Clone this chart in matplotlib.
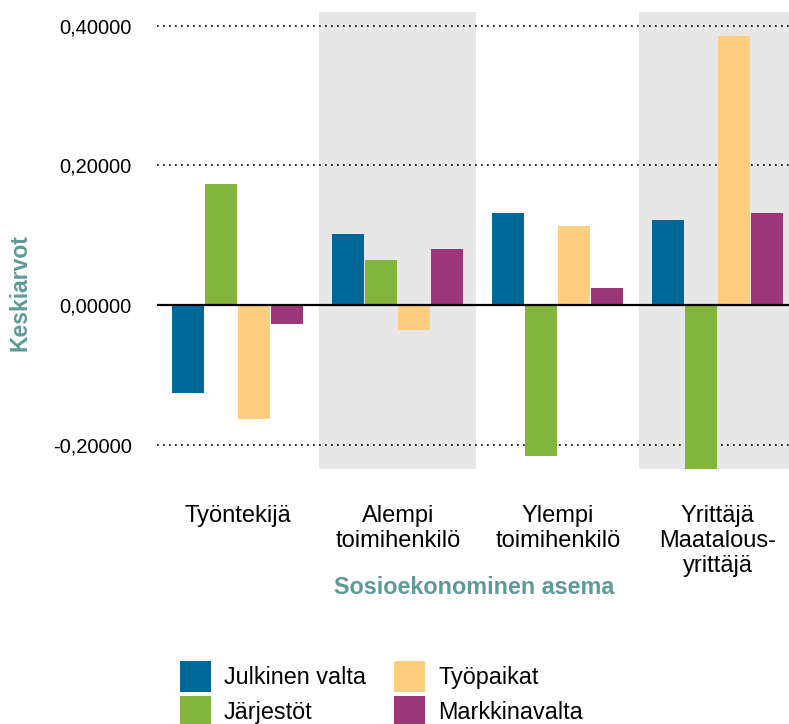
import matplotlib
matplotlib.use("Agg")
import matplotlib.pyplot as plt
import numpy as np

plt.rcParams['font.family'] = ['Liberation Sans', 'DejaVu Sans']

categories = ["Työntekijä", "Alempi\ntoimihenkilö", "Ylempi\ntoimihenkilö", "Yrittäjä\nMaatalous-\nyrittäjä"]
series = ["Julkinen valta", "Järjestöt", "Työpaikat", "Markkinavalta"]
julkinen_valta = [-0.126, 0.102, 0.132, 0.122]
jarjestot = [0.173, 0.064, -0.217, -0.235]
tyopaikat = [-0.163, -0.036, 0.113, 0.386]
markkinavalta = [-0.027, 0.080, 0.024, 0.132]
values = [julkinen_valta, jarjestot, tyopaikat, markkinavalta]
colors = ["#006899", "#83B43B", "#FECE80", "#9D3679"]
yticks = [-0.2, 0.0, 0.2, 0.4]

W, H = 789, 724
fig = plt.figure(figsize=(W / 100, H / 100), dpi=100)
ax = fig.add_axes([157 / W, 1 - 469 / H, (789 - 157) / W, (469 - 12) / H])

x = np.arange(len(categories))
for i in (1, 3):
    ax.axvspan(i - 0.49, i + 0.49, color="#E7E7E7", zorder=0, lw=0)

for y in yticks:
    if y != 0:
        ax.axhline(y, color="black", lw=1.2, dashes=(1, 2.6), zorder=1)

bw = 0.2
step = 0.206
for k, (vals, c, name) in enumerate(zip(values, colors, series)):
    ax.bar(x + (k - 1.5) * step, vals, width=bw, color=c, label=name, zorder=2)

ax.axhline(0, color="black", lw=1.6, zorder=3)

ax.set_xlim(-0.505, 3.445)
ax.set_ylim(-0.235, 0.42)
ax.set_yticks(yticks)
ax.set_yticklabels([f"{v:.5f}".replace(".", ",") for v in yticks], fontsize=14.5)
ax.set_xticks(x)
ax.set_xticklabels(categories, fontsize=17, linespacing=1.18)
ax.tick_params(axis="y", length=0, pad=18)
ax.tick_params(axis="x", length=0, pad=26)
for s in ax.spines.values():
    s.set_visible(False)

teal = "#5E9A98"
fig.text(474 / W, 1 - 587 / H, "Sosioekonominen asema", ha="center", va="center",
         fontsize=16.8, fontweight="bold", color=teal)
fig.text(20 / W, 1 - 293 / H, "Keskiarvot", ha="center", va="center", rotation=90,
         fontsize=16.5, fontweight="bold", color=teal)

fig.legend(loc="upper left", bbox_to_anchor=(180 / W, 1 - 661 / H), ncol=2,
           frameon=False, fontsize=16.8, handlelength=1.33, handleheight=1.65,
           labelspacing=0.17, handletextpad=0.56, columnspacing=1.2,
           borderpad=0, borderaxespad=0)

fig.savefig("out.png", dpi=100)
